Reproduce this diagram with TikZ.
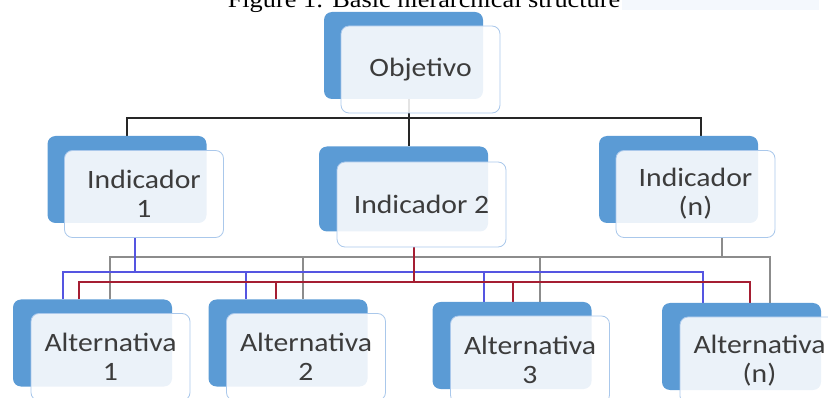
\documentclass[tikz,border=0pt]{standalone}
\usepackage{fontspec}
\usepackage{xcolor}
\usetikzlibrary{positioning, calc, backgrounds}
\newfontfamily\boxfont[FakeStretch=1.12]{Carlito}
\newfontfamily\capfont[FakeStretch=1.12]{Liberation Serif}
\definecolor{boxblue}{RGB}{91, 155, 213}
\definecolor{boxedge}{RGB}{170, 200, 235}
\definecolor{boxtext}{RGB}{60, 60, 60}
\definecolor{linkgray}{RGB}{140, 140, 140}
\definecolor{linkblue}{RGB}{85, 85, 225}
\definecolor{linkred}{RGB}{165, 30, 50}
\definecolor{capband}{RGB}{244, 248, 253}
\tikzset{
	backbox/.style={fill=boxblue, draw=none, shape=rectangle, rounded corners=8pt, minimum width=159pt, minimum height=87pt, inner sep=0pt},
	frontbox/.style={fill=white, fill opacity=0.88, text opacity=1, draw=boxedge, line width=0.8pt, shape=rectangle, rounded corners=8pt, minimum width=159pt, minimum height=87pt, inner sep=0pt, align=center, text=boxtext, font=\boxfont\fontsize{26.5}{29}\selectfont},
	treelink/.style={line width=2pt, draw=black!85},
	graylink/.style={line width=2pt, draw=linkgray},
	bluelink/.style={line width=2pt, draw=linkblue},
	redlink/.style={line width=2pt, draw=linkred},
	caption/.style={font=\capfont\fontsize{23.5}{26}\selectfont, anchor=base}
}
\begin{document}
\begin{tikzpicture}[x=1pt, y=-1pt]
	\path[use as bounding box, clip] (0,0) rectangle (828,398);

	% caption (cut off at the top)
	\fill[capband] (622,0) rectangle (819,10.5);
	\node (cap) [caption] at (424,8) {Figure 1: Basic hierarchical structure};

	% Objetivo
	\node (obj) [backbox] at (403.5,55.5) {};
	\node (obj-t) [frontbox] at ($(obj)+(17,14)$) {Objetivo};

	% Indicadores
	\node (ind1) [backbox] at (127,179.5) {};
	\node (ind1-t) [frontbox] at ($(ind1)+(17,14.5)$) {Indicador\\1};
	\node (ind2) [backbox, minimum width=169pt, minimum height=85pt] at (403.5,189) {};
	\node (ind2-t) [frontbox, minimum width=169pt, minimum height=85pt] at ($(ind2)+(18,15.5)$) {Indicador 2};
	\node (indn) [backbox] at (678.5,179.5) {};
	\node (indn-t) [frontbox] at ($(indn)+(17,14.5)$) {Indicador\\(n)};

	% Alternativas
	\node (alt1) [backbox] at (92.5,343) {};
	\node (alt1-t) [frontbox] at ($(alt1)+(18,14)$) {Alternativa\\1};
	\node (alt2) [backbox] at (288,343) {};
	\node (alt2-t) [frontbox] at ($(alt2)+(18,14)$) {Alternativa\\2};
	\node (alt3) [backbox] at (512,345.5) {};
	\node (alt3-t) [frontbox] at ($(alt3)+(18,14)$) {Alternativa\\3};
	\node (altn) [backbox] at (741.5,346.5) {};
	\node (altn-t) [frontbox] at ($(altn)+(18,14)$) {Alternativa\\(n)};

	\begin{scope}[on background layer]
		% Objetivo -> Indicadores
		\coordinate (topbus) at (0,118);
		\draw[treelink] ([xshift=5.5pt]obj.south) -- ([xshift=5.5pt]ind2.north);
		\draw[treelink] (ind1.north) -- (ind1.north |- topbus) -| ([xshift=22.5pt]indn.north);

		% Indicador (n) -> Alternativas
		\coordinate (graybus) at (0,257);
		\coordinate (gsrc) at ([xshift=26.5pt]indn-t.south);
		\coordinate (g1) at ([xshift=17.5pt]alt1.north);
		\coordinate (g2) at ([xshift=15pt]alt2.north);
		\coordinate (g3) at ([xshift=28pt]alt3.north);
		\coordinate (g4) at ([xshift=28.5pt]altn.north);
		\draw[graylink] (g1) -- (g1 |- graybus) -- (g4 |- graybus) -- (g4);
		\draw[graylink] (g2) -- (g2 |- graybus) (g3) -- (g3 |- graybus) (gsrc) -- (gsrc |- graybus);

		% Indicador 1 -> Alternativas
		\coordinate (bluebus) at (0,272);
		\coordinate (bsrc) at ([xshift=-9pt]ind1-t.south);
		\coordinate (b1) at ([xshift=-29.5pt]alt1.north);
		\coordinate (b2) at ([xshift=-42pt]alt2.north);
		\coordinate (b3) at ([xshift=-28pt]alt3.north);
		\coordinate (b4) at ([xshift=-38.5pt]altn.north);
		\draw[bluelink] (b1) -- (b1 |- bluebus) -- (b4 |- bluebus) -- (b4);
		\draw[bluelink] (b2) -- (b2 |- bluebus) (b3) -- (b3 |- bluebus) (bsrc) -- (bsrc |- bluebus);

		% Indicador 2 -> Alternativas
		\coordinate (redbus) at (0,282);
		\coordinate (rsrc) at ([xshift=-7.5pt]ind2-t.south);
		\coordinate (r1) at ([xshift=-13.5pt]alt1.north);
		\coordinate (r2) at ([xshift=-12pt]alt2.north);
		\coordinate (r3) at ([xshift=1pt]alt3.north);
		\coordinate (r4) at ([xshift=8.5pt]altn.north);
		\draw[redlink] (r1) -- (r1 |- redbus) -- (r4 |- redbus) -- (r4);
		\draw[redlink] (r2) -- (r2 |- redbus) (r3) -- (r3 |- redbus) (rsrc) -- (rsrc |- redbus);
	\end{scope}
\end{tikzpicture}
\end{document}
